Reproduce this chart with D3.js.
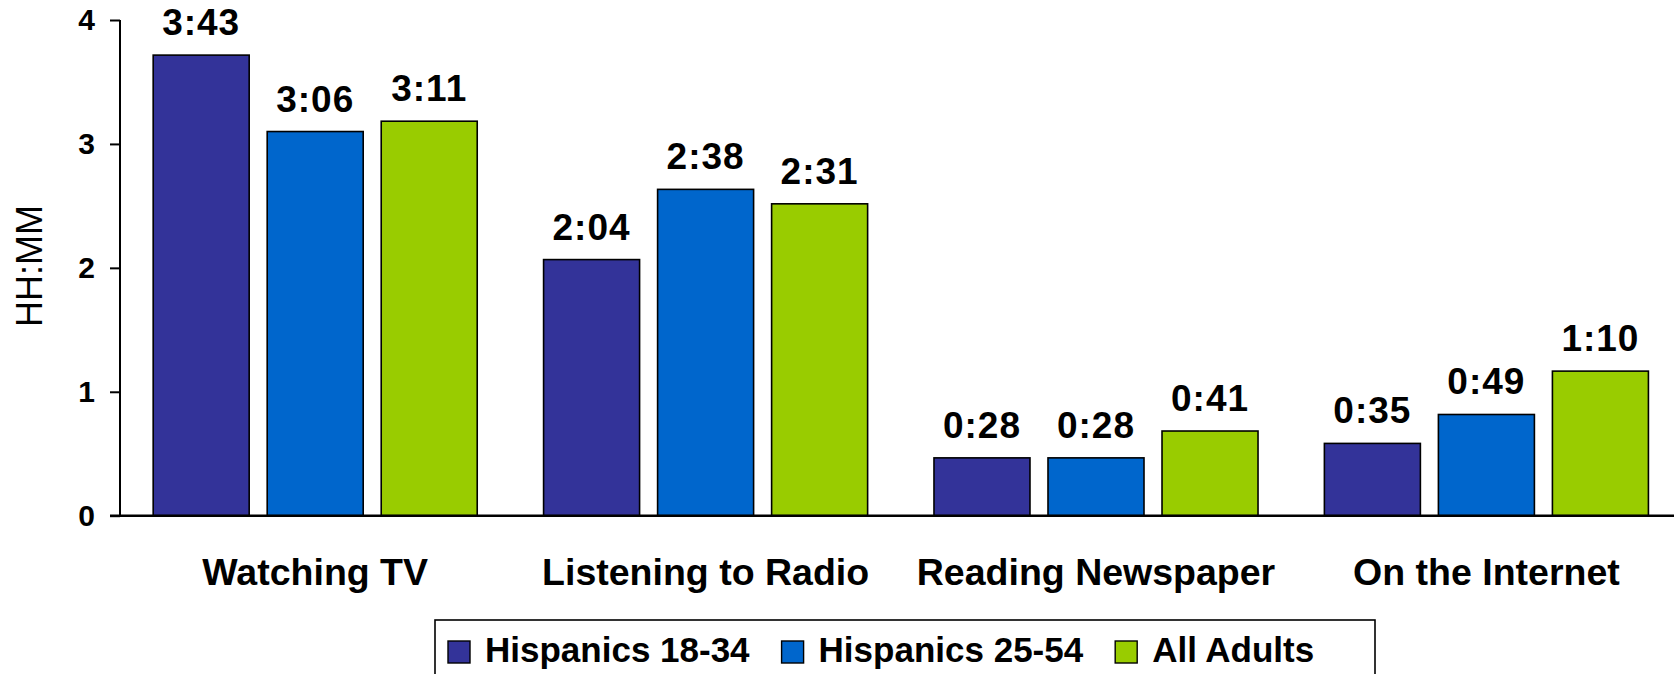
<!DOCTYPE html>
<html>
<head>
<meta charset="utf-8">
<script src="https://cdn.jsdelivr.net/npm/d3@7"></script>
<style>
  html, body { margin: 0; padding: 0; background: #ffffff; }
  svg { display: block; font-family: "Liberation Sans", Arial, sans-serif; }
</style>
</head>
<body>
<svg id="chart" width="1674" height="674"></svg>
<script>
// ---- data ----
const categories = ["Watching TV", "Listening to Radio", "Reading Newspaper", "On the Internet"];
const seriesNames = ["Hispanics 18-34", "Hispanics 25-54", "All Adults"];
const hisp1834 = ["3:43", "2:04", "0:28", "0:35"];
const hisp2554 = ["3:06", "2:38", "0:28", "0:49"];
const allAdults = ["3:11", "2:31", "0:41", "1:10"];
const yTicks = [0, 1, 2, 3, 4];
const colors = ["#333399", "#0066CC", "#99CC00"];

const seriesLabels = [hisp1834, hisp2554, allAdults];
const toHours = s => { const [h, m] = s.split(":").map(Number); return h + m / 60; };

const rows = [];
categories.forEach((c, ci) => {
  seriesNames.forEach((s, si) => {
    rows.push({ cat: c, series: s, si, label: seriesLabels[si][ci], value: toHours(seriesLabels[si][ci]) });
  });
});

// ---- layout ----
const svg = d3.select("#chart");
const x0 = d3.scaleBand().domain(categories).range([120, 1681.6]).paddingInner(0).paddingOuter(0);
const x1 = d3.scaleBand().domain(seriesNames).range([0, x0.bandwidth()]).paddingInner(0.158).paddingOuter(0.291);
const y = d3.scaleLinear().domain([0, 4]).range([515.7, 20]);

// bars
svg.append("g").selectAll("rect").data(rows).join("rect")
  .attr("x", d => x0(d.cat) + x1(d.series))
  .attr("y", d => y(d.value))
  .attr("width", x1.bandwidth())
  .attr("height", d => y(0) - y(d.value))
  .attr("fill", d => colors[d.si])
  .attr("stroke", "#000")
  .attr("stroke-width", 1.6);

// value labels
svg.append("g").selectAll("text").data(rows).join("text")
  .attr("x", d => x0(d.cat) + x1(d.series) + x1.bandwidth() / 2)
  .attr("y", d => y(d.value) - 20)
  .attr("text-anchor", "middle")
  .attr("font-weight", "bold")
  .attr("font-size", 37)
  .attr("letter-spacing", 1)
  .attr("fill", "#000")
  .text(d => d.label);

// y axis
const yAxis = d3.axisLeft(y).tickValues(yTicks).tickSize(10).tickPadding(15).tickFormat(d3.format("d"));
const ga = svg.append("g").attr("transform", "translate(120,0)").call(yAxis);
ga.attr("font-size", null);
ga.select(".domain").attr("stroke", "#000").attr("stroke-width", 2).attr("d", `M0,${y(4)}V${y(0)}`);
ga.selectAll(".tick line").attr("stroke", "#000").attr("stroke-width", 2);
ga.selectAll(".tick text").attr("font-size", 30).attr("font-weight", "bold").attr("fill", "#000")
  .attr("font-family", "'Liberation Sans', Arial, sans-serif");

// x axis
const xAxis = d3.axisBottom(x0).tickSize(0).tickPadding(0);
const gx = svg.append("g").attr("transform", `translate(0,${y(0)})`).call(xAxis);
gx.attr("font-size", null);
gx.select(".domain").attr("stroke", "#000").attr("stroke-width", 2.4).attr("d", `M110,0H1674`);
gx.selectAll(".tick text")
  .attr("y", 69)
  .attr("dy", 0)
  .attr("font-size", 37.5)
  .attr("font-weight", "bold")
  .attr("fill", "#000")
  .attr("font-family", "'Liberation Sans', Arial, sans-serif");

// y axis title
svg.append("text")
  .attr("transform", "translate(42,266) rotate(-90)")
  .attr("text-anchor", "middle")
  .attr("font-size", 36)
  .attr("fill", "#000")
  .text("HH:MM");

// legend
const lg = svg.append("g");
lg.append("rect")
  .attr("x", 435).attr("y", 620).attr("width", 940).attr("height", 70)
  .attr("fill", "#fff").attr("stroke", "#000").attr("stroke-width", 1.6);
let lx = 448;
seriesNames.forEach((s, i) => {
  lg.append("rect")
    .attr("x", lx).attr("y", 641).attr("width", 22).attr("height", 22)
    .attr("fill", colors[i]).attr("stroke", "#000").attr("stroke-width", 1.4);
  const t = lg.append("text")
    .attr("x", lx + 37).attr("y", 662)
    .attr("font-size", 35).attr("font-weight", "bold").attr("fill", "#000")
    .text(s);
  lx += 37 + t.node().getComputedTextLength() + 32;
});
</script>
</body>
</html>
